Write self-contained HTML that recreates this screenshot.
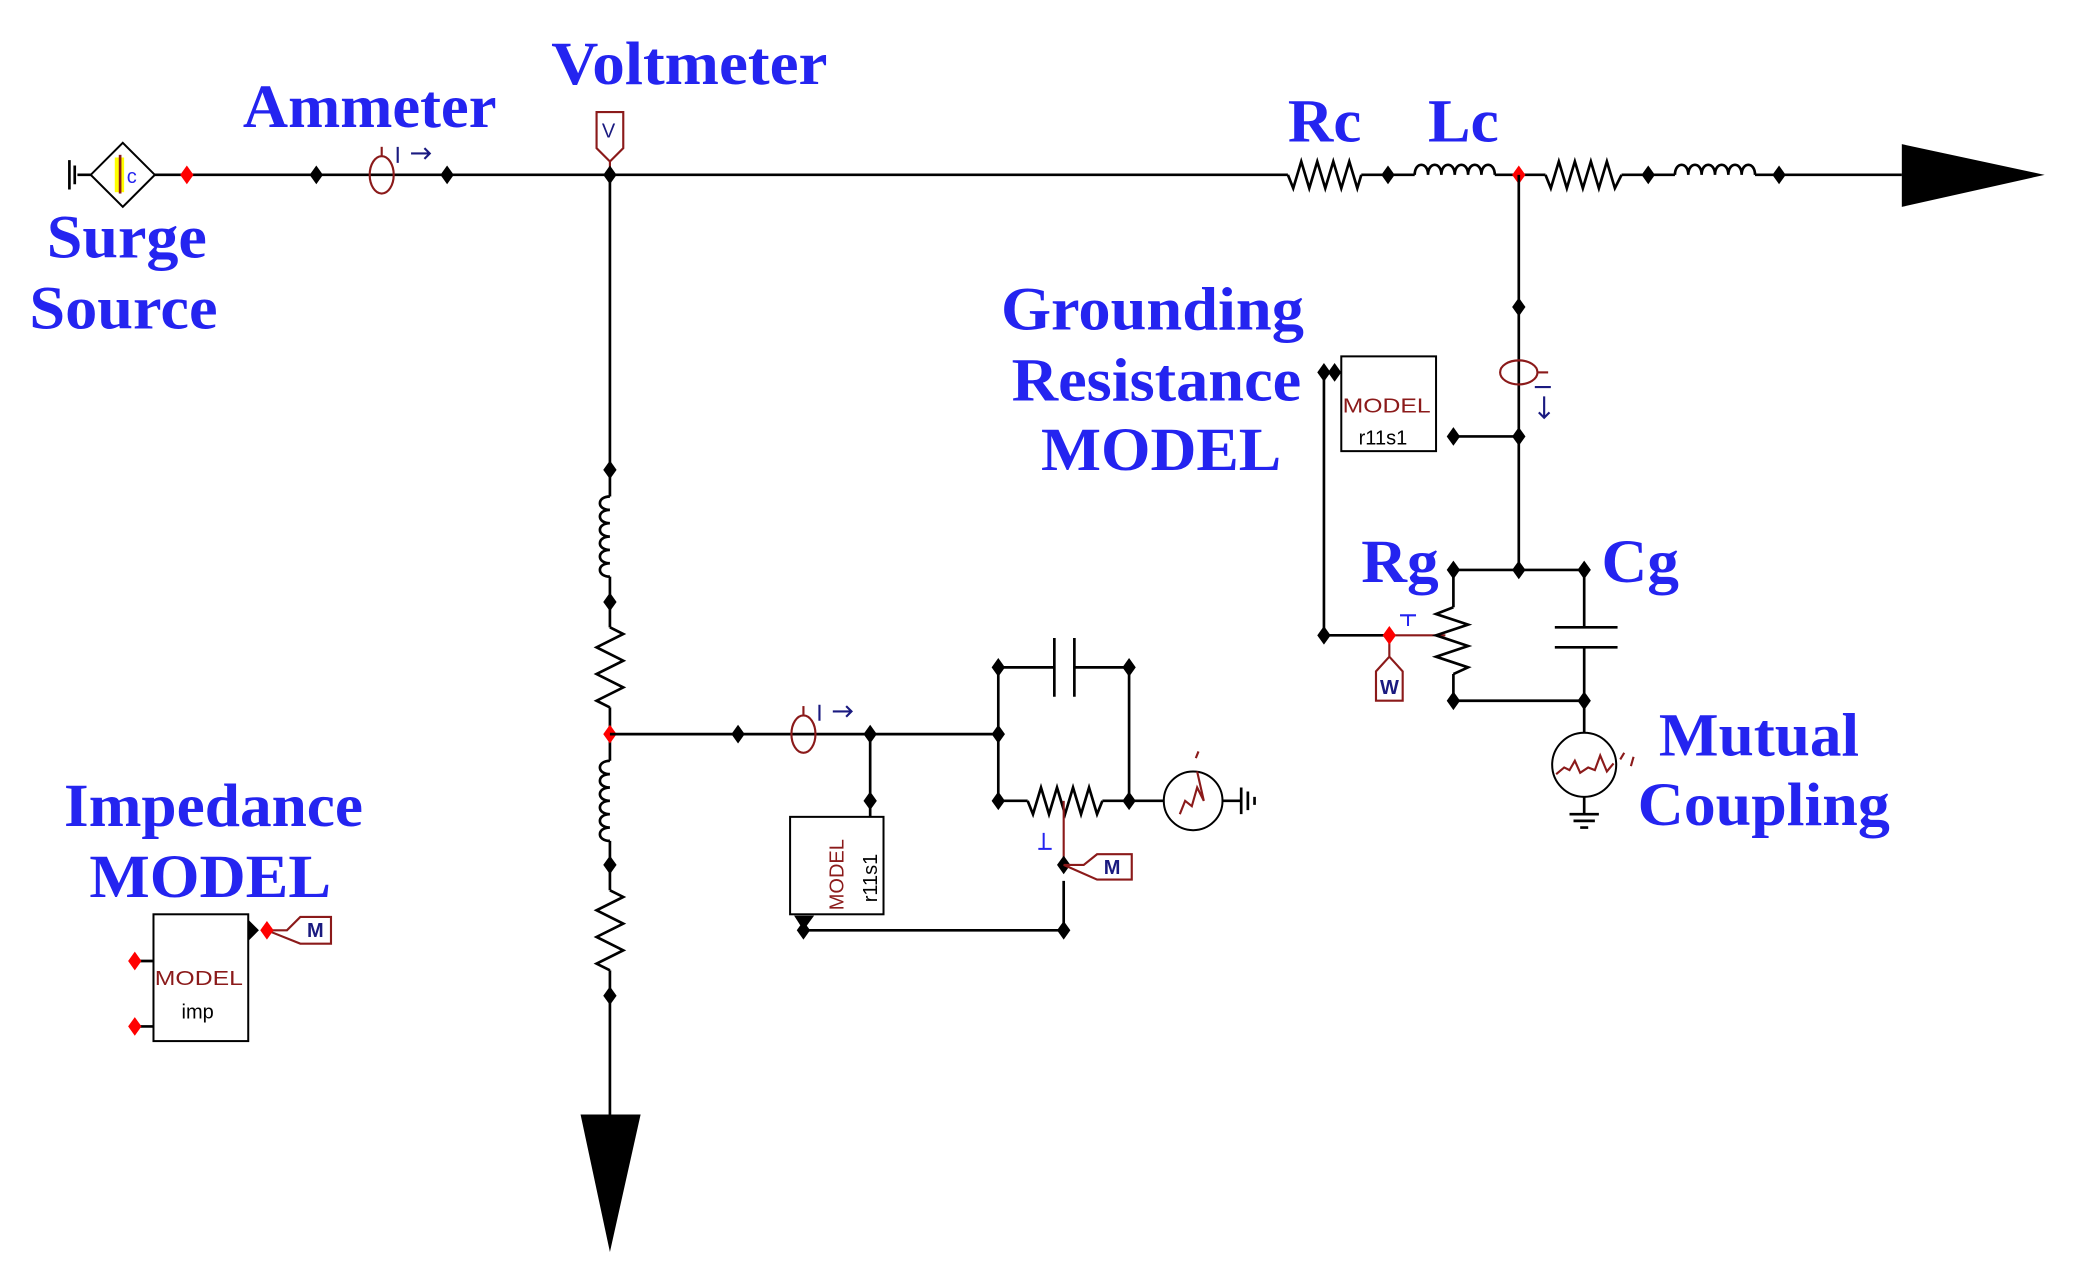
<!DOCTYPE html>
<html><head><meta charset="utf-8"><style>
html,body{margin:0;padding:0;background:#fff}
svg{display:block}
.t{font-family:"Liberation Serif",serif;font-weight:bold;fill:#2424f0;font-size:46px}
.w{stroke:#000;stroke-width:2;fill:none}
.r{stroke:#8b1a1a;stroke-width:1.6;fill:none}
.s{font-family:"Liberation Sans",sans-serif;font-size:15px}
</style></head><body>
<svg width="2082" height="1272" viewBox="0 0 1560 953" preserveAspectRatio="none" xmlns="http://www.w3.org/2000/svg">
<defs>
<path id="n" d="M0,-7 L5,0 L0,7 L-5,0Z" fill="#000"/>
<path id="nr" d="M0,-7 L5,0 L0,7 L-5,0Z" fill="#f00"/>
</defs>
<!-- labels -->
<text class="t" x="182" y="95" textLength="190" lengthAdjust="spacingAndGlyphs">Ammeter</text>
<text class="t" x="413" y="63" textLength="207" lengthAdjust="spacingAndGlyphs">Voltmeter</text>
<text class="t" x="35" y="193" textLength="120" lengthAdjust="spacingAndGlyphs">Surge</text>
<text class="t" x="22" y="246" textLength="141" lengthAdjust="spacingAndGlyphs">Source</text>
<text class="t" x="965" y="106" textLength="55" lengthAdjust="spacingAndGlyphs">Rc</text>
<text class="t" x="1070" y="106" textLength="53" lengthAdjust="spacingAndGlyphs">Lc</text>
<text class="t" x="750" y="247" textLength="227" lengthAdjust="spacingAndGlyphs">Grounding</text>
<text class="t" x="758" y="300" textLength="217" lengthAdjust="spacingAndGlyphs">Resistance</text>
<text class="t" x="780" y="352" textLength="180" lengthAdjust="spacingAndGlyphs">MODEL</text>
<text class="t" x="1020" y="436" textLength="58" lengthAdjust="spacingAndGlyphs">Rg</text>
<text class="t" x="1200" y="436" textLength="58" lengthAdjust="spacingAndGlyphs">Cg</text>
<text class="t" x="1243" y="566" textLength="150" lengthAdjust="spacingAndGlyphs">Mutual</text>
<text class="t" x="1227" y="618" textLength="189" lengthAdjust="spacingAndGlyphs">Coupling</text>
<text class="t" x="48" y="619" textLength="224" lengthAdjust="spacingAndGlyphs">Impedance</text>
<text class="t" x="67" y="672" textLength="181" lengthAdjust="spacingAndGlyphs">MODEL</text>

<!-- main wire -->
<path class="w" d="M58,131 H68 M115,131 H965 M1020,131 H1060 M1120,131 H1158 M1215,131 H1255 M1315,131 H1425"/>
<path class="w" d="M52,120 V142 M56,124 V138" stroke-width="1.5"/>
<path d="M92,107 L116,131 L92,155 L68,131Z" fill="#fff" stroke="#000" stroke-width="1.5"/>
<rect x="86" y="118" width="7" height="26" fill="#ff0"/>
<path d="M90,116 V145" stroke="#8b1a1a" stroke-width="2"/>
<text x="95" y="137" class="s" fill="#2424f0" font-size="13">c</text>
<use href="#nr" x="140" y="131"/>
<use href="#n" x="237" y="131"/><use href="#n" x="335" y="131"/>
<ellipse class="r" cx="286" cy="131" rx="9" ry="14"/>
<path class="r" d="M286,117 V110"/>
<path d="M298,110 V122 M308,115 H322 M318,111 L322,115 L318,119" stroke="#1a1a80" stroke-width="1.6" fill="none"/>
<path class="r" d="M447,84 H467 V111 L457,121 L447,111Z M457,121 V131"/>
<text x="451" y="103" class="s" fill="#1a1a80" font-size="14">V</text>
<use href="#n" x="457" y="131"/>
<!-- series elements -->
<path class="w" d="M965,131 L969,141 L975,121 L981,141 L987,121 L993,141 L999,121 L1005,141 L1011,121 L1017,141 L1020,131" stroke-width="1.4"/>
<use href="#n" x="1040" y="131"/>
<path class="w" stroke-width="1.4" d="M1060,131 c0,-10 10,-10 10,0 c0,-10 10,-10 10,0 c0,-10 10,-10 10,0 c0,-10 10,-10 10,0 c0,-10 10,-10 10,0 c0,-10 10,-10 10,0"/>
<use href="#nr" x="1138" y="131"/>
<path class="w" d="M1158,131 L1162,141 L1168,121 L1174,141 L1180,121 L1186,141 L1192,121 L1198,141 L1204,121 L1210,141 L1215,131" stroke-width="1.4"/>
<use href="#n" x="1235" y="131"/>
<path class="w" stroke-width="1.4" d="M1255,131 c0,-10 10,-10 10,0 c0,-10 10,-10 10,0 c0,-10 10,-10 10,0 c0,-10 10,-10 10,0 c0,-10 10,-10 10,0 c0,-10 10,-10 10,0"/>
<use href="#n" x="1333" y="131"/>
<path d="M1425,108 L1532,131 L1425,155Z" fill="#000"/>

<!-- vertical branch -->
<path class="w" d="M457,131 V372 M457,432 V470 M457,530 V570 M457,630 V667 M457,727 V835"/>
<use href="#n" x="457" y="352"/>
<path class="w" stroke-width="1.4" d="M457,372 c-10,0 -10,10 0,10 c-10,0 -10,10 0,10 c-10,0 -10,10 0,10 c-10,0 -10,10 0,10 c-10,0 -10,10 0,10 c-10,0 -10,10 0,10"/>
<use href="#n" x="457" y="451"/>
<path class="w" stroke-width="1.4" d="M457,470 L467,475 L447,485 L467,495 L447,505 L467,515 L447,525 L457,530"/>
<use href="#nr" x="457" y="550"/>
<path class="w" stroke-width="1.4" d="M457,570 c-10,0 -10,10 0,10 c-10,0 -10,10 0,10 c-10,0 -10,10 0,10 c-10,0 -10,10 0,10 c-10,0 -10,10 0,10 c-10,0 -10,10 0,10"/>
<use href="#n" x="457" y="648"/>
<path class="w" stroke-width="1.4" d="M457,667 L467,672 L447,682 L467,692 L447,702 L467,712 L447,722 L457,727"/>
<use href="#n" x="457" y="746"/>
<path d="M435,835 L480,835 L457,938Z" fill="#000"/>

<!-- lower branch -->
<path class="w" d="M457,550 H748 M652,550 V612 M748,500 V600 M846,500 V600 M748,500 H790 M805,500 H846 M748,600 H770 M826,600 H872 M602,697 H797 V660"/>
<use href="#n" x="553" y="550"/><use href="#n" x="652" y="550"/><use href="#n" x="748" y="550"/>
<ellipse class="r" cx="602" cy="550" rx="9" ry="14"/>
<path class="r" d="M602,536 V529"/>
<path d="M614,528 V540 M624,533 H638 M634,529 L638,533 L634,537" stroke="#1a1a80" stroke-width="1.6" fill="none"/>
<use href="#n" x="748" y="500"/><use href="#n" x="846" y="500"/>
<path class="w" d="M790,478 V522 M805,478 V522"/>
<use href="#n" x="748" y="600"/><use href="#n" x="846" y="600"/>
<path class="w" stroke-width="1.4" d="M770,600 L774,610 L780,590 L786,610 L792,590 L798,610 L804,590 L810,610 L816,590 L822,610 L826,600"/>
<path class="r" d="M797,600 V648"/>
<path d="M782,624 V636 M778,636 H788" stroke="#2424f0" stroke-width="1.5"/>
<use href="#n" x="797" y="648"/><use href="#n" x="797" y="697"/>
<path class="r" d="M797,648 H812 L822,640 H848 V659 H822 Z"/>
<text x="827" y="655" class="s" fill="#1a1a80" font-size="12" font-weight="bold">M</text>
<use href="#n" x="652" y="600"/>
<rect x="592" y="612" width="70" height="73" fill="#fff" stroke="#000" stroke-width="1.5"/>
<text transform="translate(632,682) rotate(-90)" class="s" fill="#8b1a1a" font-size="16">MODEL</text>
<text transform="translate(657,676) rotate(-90)" class="s" fill="#000" font-size="16">r11s1</text>
<path d="M595,686 L610,686 L602,697Z" fill="#000"/>
<use href="#n" x="602" y="697"/>
<circle cx="894" cy="600" r="22" fill="#fff" stroke="#000" stroke-width="1.5"/>
<path class="r" d="M884,610 L888,600 L893,604 L897,590 L902,600 L897,578 M896,568 L898,563"/>
<path class="w" d="M916,600 H930 M930,590 V610 M935,593 V607 M940,597 V603" stroke-width="1.4"/>

<!-- right branch -->
<path class="w" d="M1138,131 V427 M1089,327 H1138 M1089,427 H1187 M1089,427 V455 M1089,505 V525 H1187 M1187,427 V470 M1187,485 V573 M992,279 H1005 M992,279 V476 H1041"/>
<use href="#n" x="1138" y="230"/>
<ellipse class="r" cx="1138" cy="279" rx="14" ry="9"/>
<path class="r" d="M1152,279 H1160"/>
<path d="M1150,290 H1162 M1157,297 V313 M1153,309 L1157,313 L1161,309" stroke="#1a1a80" stroke-width="1.6" fill="none"/>
<use href="#n" x="1138" y="327"/><use href="#n" x="1089" y="327"/>
<rect x="1005" y="267" width="71" height="71" fill="#fff" stroke="#000" stroke-width="1.5"/>
<text x="1006" y="309" class="s" fill="#8b1a1a" font-size="16" textLength="66" lengthAdjust="spacingAndGlyphs">MODEL</text>
<text x="1018" y="333" class="s" fill="#000" font-size="16">r11s1</text>
<use href="#n" x="992" y="279"/><use href="#n" x="1000" y="279"/>
<use href="#n" x="992" y="476"/>
<path class="r" d="M1041,476 H1083 M1041,476 V492 M1031,503 L1041,492 L1051,503 V525 H1031 Z"/>
<text x="1034" y="520" class="s" fill="#1a1a80" font-size="12" font-weight="bold">W</text>
<use href="#nr" x="1041" y="476"/>
<path d="M1049,461 H1061 M1055,461 V469" stroke="#2424f0" stroke-width="1.5"/>
<use href="#n" x="1089" y="427"/><use href="#n" x="1138" y="427"/><use href="#n" x="1187" y="427"/>
<path class="w" stroke-width="1.4" d="M1089,455 L1076,460 L1100,468 L1076,476 L1100,484 L1076,492 L1100,500 L1089,505"/>
<use href="#n" x="1089" y="525"/><use href="#n" x="1187" y="525"/>
<path class="w" d="M1165,470 H1212 M1165,485 H1212"/>
<circle cx="1187" cy="573" r="24" fill="#fff" stroke="#000" stroke-width="1.5"/>
<path class="r" d="M1166,580 L1172,575 L1176,577 L1180,570 L1184,579 L1190,575 L1195,577 L1199,566 L1204,578 L1209,572 M1214,569 L1217,564 M1222,574 L1224,567"/>
<path class="w" stroke-width="1.4" d="M1187,597 V610 M1176,610 H1198 M1179,615 H1195 M1184,620 H1190"/>

<!-- impedance model -->
<rect x="115" y="685" width="71" height="95" fill="#fff" stroke="#000" stroke-width="1.5"/>
<text x="116" y="738" class="s" fill="#8b1a1a" font-size="16" textLength="66" lengthAdjust="spacingAndGlyphs">MODEL</text>
<text x="136" y="763" class="s" fill="#000" font-size="16">imp</text>
<path class="w" d="M101,720 H115 M101,769 H115" stroke-width="1.5"/>
<use href="#nr" x="101" y="720"/><use href="#nr" x="101" y="769"/>
<path d="M186,689 L194,697 L186,705Z" fill="#000"/>
<path class="r" d="M200,697 H215 L225,687 H248 V707 H225 Z"/>
<text x="230" y="702" class="s" fill="#1a1a80" font-size="12" font-weight="bold">M</text>
<use href="#nr" x="200" y="697"/>
</svg>
</body></html>
